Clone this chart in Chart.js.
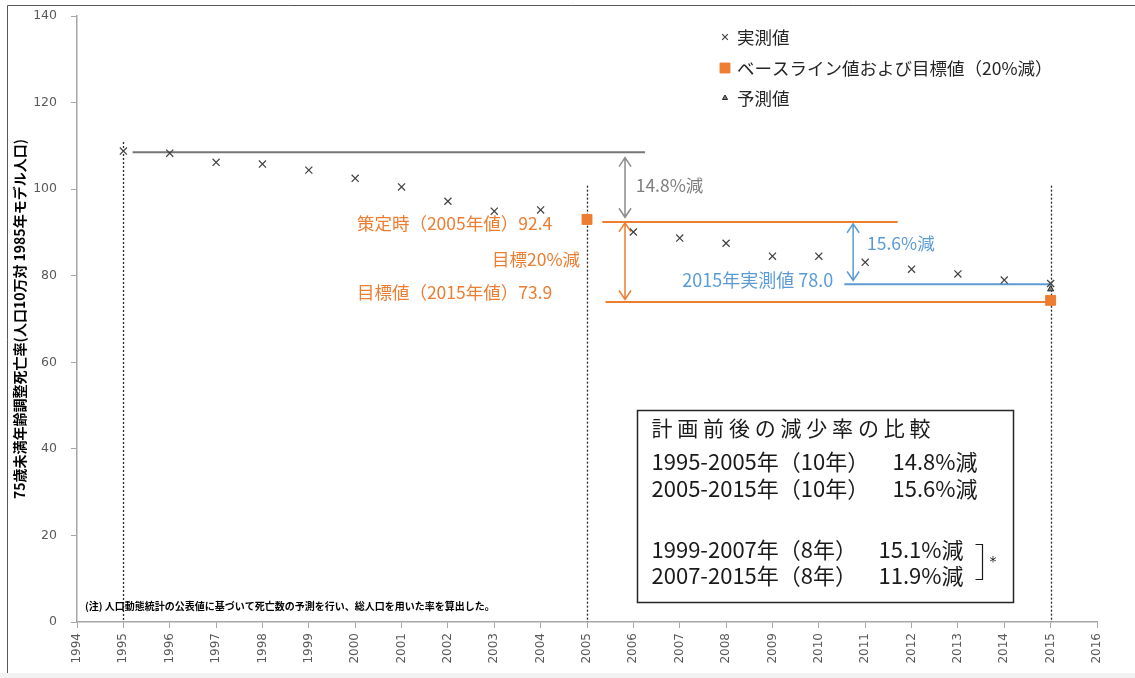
<!DOCTYPE html>
<html lang="ja">
<head>
<meta charset="utf-8">
<title>75歳未満年齢調整死亡率</title>
<script src="https://cdn.jsdelivr.net/npm/chart.js@4.4.1/dist/chart.umd.min.js"></script>
<style>
  html, body { margin: 0; padding: 0; background: #fff; }
  #wrap { width: 1135px; height: 678px; }
</style>
</head>
<body>
<div id="wrap"><canvas id="shiboChart" width="1135" height="678"></canvas></div>
<script>
// 横軸の年
const years = [1995, 1996, 1997, 1998, 1999, 2000, 2001, 2002, 2003, 2004, 2005,
               2006, 2007, 2008, 2009, 2010, 2011, 2012, 2013, 2014, 2015];
// 実測値 (2005年はベースラインのマーカーに隠れているので空)
const measured = [108.8, 108.3, 106.2, 105.8, 104.4, 102.5, 100.5, 97.2, 94.9, 95.2, null,
                  90.1, 88.7, 87.5, 84.5, 84.5, 83.1, 81.5, 80.4, 79.0, 78.2];
// ベースライン値および目標値(20%減)
const baselineYears = [2005, 2015];
const baselineValues = [93.0, 74.3];
// 予測値
const forecastYears = [2015];
const forecastValues = [76.9];

// 軸の目盛り
const xRange = [1994, 2016];
const yRange = [0, 140];
const yStep = 20;

// 注記に使う値
const value1995 = 108.5;
const value2005 = 92.4;
const target2015 = 73.9;
const actual2015 = 78.0;

const ORANGE = '#ED7D31';
const BLUE = '#5B9BD5';
const GRAY = '#7f7f7f';
const JP = '"Noto Sans CJK JP", "Noto Sans", sans-serif';

const toPoints = (xs, ys) => xs.map((x, i) => ({ x: x, y: ys[i] })).filter(p => p.y !== null);

// 矢印(両端)
function vArrow(ctx, x, yTop, yBottom, color) {
    const h = 9, w = 6;
    ctx.save();
    ctx.strokeStyle = color;
    ctx.lineWidth = 1.5;
    ctx.beginPath();
    ctx.moveTo(x, yTop); ctx.lineTo(x, yBottom);
    ctx.moveTo(x - w, yTop + h); ctx.lineTo(x, yTop); ctx.lineTo(x + w, yTop + h);
    ctx.moveTo(x - w, yBottom - h); ctx.lineTo(x, yBottom); ctx.lineTo(x + w, yBottom - h);
    ctx.stroke();
    ctx.restore();
}

function hLine(ctx, x1, x2, y, color) {
    ctx.save();
    ctx.strokeStyle = color;
    ctx.lineWidth = 2;
    ctx.beginPath(); ctx.moveTo(x1, y); ctx.lineTo(x2, y); ctx.stroke();
    ctx.restore();
}

function label(ctx, text, x, y, color, align, font) {
    ctx.save();
    ctx.fillStyle = color;
    ctx.font = font;
    ctx.textAlign = align;
    ctx.textBaseline = 'middle';
    ctx.fillText(text, x, y);
    ctx.restore();
}

// 注記・凡例・枠をまとめて描くプラグイン
const notesPlugin = {
    id: 'notes',
    beforeDraw(chart) {
        const ctx = chart.ctx;
        ctx.save();
        ctx.fillStyle = '#fff';
        ctx.fillRect(0, 0, chart.width, chart.height);
        ctx.fillStyle = '#f2f2f2';
        ctx.fillRect(0, 673, chart.width, 5);
        ctx.strokeStyle = '#595959';
        ctx.lineWidth = 1;
        ctx.beginPath();
        ctx.moveTo(7.5, 673); ctx.lineTo(7.5, 5.5); ctx.lineTo(chart.width, 5.5);
        ctx.stroke();
        ctx.restore();
    },
    beforeDatasetsDraw(chart) {
        const ctx = chart.ctx;
        const px = v => chart.scales.x.getPixelForValue(v);
        const py = v => chart.scales.y.getPixelForValue(v);

        // 縦の点線
        ctx.save();
        ctx.strokeStyle = '#262626';
        ctx.lineWidth = 1.3;
        ctx.setLineDash([2, 2]);
        [[1995, 110.9], [2005, 100.8], [2015, 100.8]].forEach(([yr, top]) => {
            ctx.beginPath();
            ctx.moveTo(Math.round(px(yr)) + 0.5, py(top));
            ctx.lineTo(Math.round(px(yr)) + 0.5, py(0));
            ctx.stroke();
        });
        ctx.restore();

        // 横線
        hLine(ctx, px(1995.2), px(2006.25), py(value1995), '#767676');
        hLine(ctx, px(2005.33), px(2011.7), py(value2005), ORANGE);
        hLine(ctx, px(2005.4), px(2015), py(target2015), ORANGE);
        hLine(ctx, px(2010.55), px(2015), py(actual2015), BLUE);

        // 矢印
        vArrow(ctx, px(2005.82), py(107.3), py(93.5), '#8c8c8c');
        vArrow(ctx, px(2005.82), py(92.2), py(74.5), ORANGE);
        vArrow(ctx, px(2010.74), py(92.0), py(78.9), BLUE);
    },
    afterDatasetsDraw(chart) {
        const ctx = chart.ctx;
        const px = v => chart.scales.x.getPixelForValue(v);
        const py = v => chart.scales.y.getPixelForValue(v);
        const f17 = '17.5px ' + JP;

        label(ctx, '14.8%減', px(2006.05), py(100.9), GRAY, 'left', f17);
        label(ctx, '15.6%減', px(2011.04), py(87.5), BLUE, 'left', f17);
        label(ctx, '2015年実測値 78.0', px(2010.31), py(79.0), BLUE, 'right', '18px ' + JP);
        label(ctx, '策定時（2005年値）92.4', px(2004.25), py(92.1), ORANGE, 'right', f17);
        label(ctx, '目標20%減', px(2004.85), py(83.8), ORANGE, 'right', f17);
        label(ctx, '目標値（2015年値）73.9', px(2004.25), py(76.2), ORANGE, 'right', f17);

        // 比較の枠
        const bx1 = Math.round(px(2006.08)) + 0.5, bx2 = Math.round(px(2014.19)) + 0.5;
        const by1 = Math.round(py(48.96)) + 0.5, by2 = Math.round(py(4.6)) + 0.5;
        ctx.save();
        ctx.fillStyle = '#fff';
        ctx.fillRect(bx1, by1, bx2 - bx1, by2 - by1);
        ctx.strokeStyle = '#262626';
        ctx.lineWidth = 1.5;
        ctx.strokeRect(bx1, by1, bx2 - bx1, by2 - by1);
        ctx.restore();

        const f21 = '22px ' + JP;
        const tx = bx1 + 14;
        const title = '計画前後の減少率の比較';
        ctx.save();
        ctx.fillStyle = '#1a1a1a';
        ctx.font = '21px ' + JP;
        ctx.textBaseline = 'middle';
        [...title].forEach((ch, i) => ctx.fillText(ch, tx + i * 25.8, by1 + 18));
        ctx.restore();
        const rows = [
            ['1995-2005年（10年）', '14.8%減', 33, 241],
            ['2005-2015年（10年）', '15.6%減', 60, 241],
            ['1999-2007年（8年）', '15.1%減', 121, 227],
            ['2007-2015年（8年）', '11.9%減', 147, 227]
        ];
        rows.forEach(r => {
            label(ctx, r[0], tx, by1 + 18 + r[2], '#1a1a1a', 'left', f21);
            label(ctx, r[1], tx + r[3], by1 + 18 + r[2], '#1a1a1a', 'left', f21);
        });
        // 括弧と *
        ctx.save();
        ctx.strokeStyle = '#1a1a1a';
        ctx.lineWidth = 1.2;
        ctx.beginPath();
        ctx.moveTo(bx1 + 338, by1 + 134); ctx.lineTo(bx1 + 345, by1 + 134);
        ctx.lineTo(bx1 + 345, by1 + 169); ctx.lineTo(bx1 + 338, by1 + 169);
        ctx.stroke();
        ctx.restore();
        label(ctx, '*', bx1 + 352, by1 + 152, '#1a1a1a', 'left', '14px "DejaVu Sans", sans-serif');

        // 注
        label(ctx, '(注) 人口動態統計の公表値に基づいて死亡数の予測を行い、総人口を用いた率を算出した。',
              85, 606, '#000', 'left', 'bold 10px ' + JP);

        // 凡例
        const items = [
            { ds: 0, y: 37 },
            { ds: 1, y: 68 },
            { ds: 2, y: 98 }
        ];
        items.forEach(it => {
            const ds = chart.data.datasets[it.ds];
            ctx.save();
            ctx.fillStyle = ds.backgroundColor;
            ctx.strokeStyle = ds.borderColor;
            ctx.lineWidth = ds.borderWidth;
            Chart.helpers.drawPoint(ctx, {
                pointStyle: ds.pointStyle,
                radius: ds.legendRadius,
                borderWidth: ds.borderWidth,
                rotation: 0
            }, 725, it.y);
            ctx.restore();
            label(ctx, ds.label, 737, it.y, '#262626', 'left', '17.5px ' + JP);
        });
    }
};

const chartConfig = {
    type: 'scatter',
    data: {
        datasets: [{
            label: '実測値',
            data: toPoints(years, measured),
            pointStyle: 'crossRot',
            radius: 5,
            legendRadius: 4,
            borderColor: '#404040',
            backgroundColor: '#404040',
            borderWidth: 1.2
        }, {
            label: 'ベースライン値および目標値（20%減）',
            data: toPoints(baselineYears, baselineValues),
            pointStyle: 'rect',
            radius: 7,
            legendRadius: 7,
            borderColor: ORANGE,
            backgroundColor: ORANGE,
            borderWidth: 1
        }, {
            label: '予測値',
            data: toPoints(forecastYears, forecastValues),
            pointStyle: 'triangle',
            radius: 3.5,
            legendRadius: 3,
            borderColor: '#262626',
            backgroundColor: '#7f7f7f',
            borderWidth: 1
        }]
    },
    options: {
        responsive: false,
        animation: false,
        events: [],
        layout: { padding: { left: 4, right: 38, top: 16, bottom: 0 } },
        plugins: {
            legend: { display: false },
            tooltip: { enabled: false }
        },
        scales: {
            x: {
                type: 'linear',
                min: xRange[0],
                max: xRange[1],
                afterFit: s => { s.height = 56; },
                ticks: {
                    stepSize: 1,
                    minRotation: 90,
                    maxRotation: 90,
                    padding: 5,
                    color: '#595959',
                    font: { family: '"DejaVu Sans", sans-serif', size: 12 },
                    callback: v => String(v)
                },
                grid: { drawOnChartArea: false, drawTicks: true, tickLength: 6, color: '#a6a6a6' },
                border: { color: '#a6a6a6', width: 1.5 }
            },
            y: {
                min: yRange[0],
                max: yRange[1],
                // 目盛りラベルの余白が上端を押し下げないようにする
                afterFit: s => { s.width = 73; s.paddingTop = 8; s.paddingBottom = 8; },
                ticks: {
                    stepSize: yStep,
                    padding: 14,
                    color: '#595959',
                    font: { family: '"DejaVu Sans", sans-serif', size: 12.5 }
                },
                grid: { drawOnChartArea: false, drawTicks: true, tickLength: 6, color: '#a6a6a6' },
                border: { color: '#a6a6a6', width: 1.5 },
                title: {
                    display: true,
                    text: '75歳未満年齢調整死亡率(人口10万対 1985年モデル人口)',
                    color: '#000',
                    padding: { top: 7, bottom: 0 },
                    font: { family: JP, size: 14, weight: 'bold' }
                }
            }
        }
    },
    plugins: [notesPlugin]
};

const shiboChart = new Chart(document.getElementById('shiboChart'), chartConfig);
</script>
</body>
</html>
